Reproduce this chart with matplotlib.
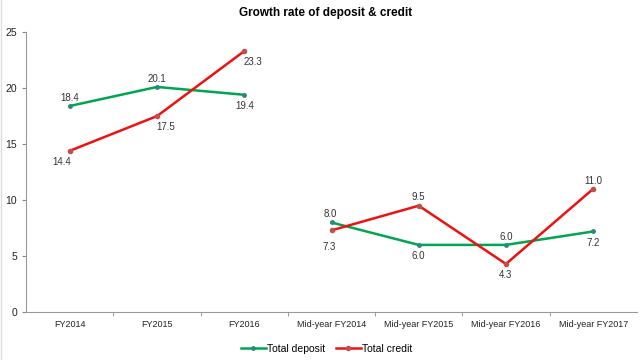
import numpy as np
import matplotlib
matplotlib.use("Agg")
import matplotlib.pyplot as plt
from matplotlib.lines import Line2D

plt.rcParams["font.family"] = ["Liberation Sans", "DejaVu Sans"]

categories = ["FY2014", "FY2015", "FY2016", "Mid-year FY2014",
              "Mid-year FY2015", "Mid-year FY2016", "Mid-year FY2017"]
deposit = [18.4, 20.1, 19.4, 8.0, 6.0, 6.0, 7.2]
credit = [14.4, 17.5, 23.3, 7.3, 9.5, 4.3, 11.0]
# label offsets (points) for the value labels
dep_off = [(0, 6), (0, 6), (0, -8), (-1, 6), (0, -8), (0, 6), (0, -8)]
cred_off = [(-6, -8), (6, -8), (6, -8), (-2, -12), (0, 6), (0, -8), (0, 6)]

GREEN = "#00A54F"
RED = "#EE1111"

fig = plt.figure(figsize=(6.4, 3.6), dpi=100)
ax = fig.add_axes([0.041, 0.133, 0.954, 0.778])

x = np.arange(len(categories))
# the annual and mid-year series are not joined
for seg in (slice(0, 3), slice(3, 7)):
    ax.plot(x[seg], deposit[seg], color=GREEN, lw=1.8, marker="o", ms=2.5,
            mfc="#2a8a7a", mec="#2a8a7a")
    ax.plot(x[seg], credit[seg], color=RED, lw=1.8, marker="o", ms=3,
            mfc="#c0504d", mec="#c0504d")

for i in range(len(x)):
    ax.annotate(f"{deposit[i]:.1f}", (x[i], deposit[i]), xytext=dep_off[i],
                textcoords="offset points", ha="center", va="center",
                fontsize=7, color="#333333")
    ax.annotate(f"{credit[i]:.1f}", (x[i], credit[i]), xytext=cred_off[i],
                textcoords="offset points", ha="center", va="center",
                fontsize=7, color="#333333")

ax.set_xlim(-0.5, len(categories) - 0.5)
ax.set_ylim(0, 25)
ax.set_yticks([0, 5, 10, 15, 20, 25])
ax.set_xticks(x)
ax.set_xticklabels(categories)
ax.set_xticks(np.arange(0.5, len(categories) - 1, 1), minor=True)
ax.tick_params(axis="x", which="major", length=0, labelsize=6.5, pad=6,
               colors="#222222")
ax.tick_params(axis="x", which="minor", length=3, color="#888888")
ax.tick_params(axis="y", length=3, color="#888888", labelsize=7.5,
               labelcolor="#222222")
for s in ("top", "right"):
    ax.spines[s].set_visible(False)
for s in ("left", "bottom"):
    ax.spines[s].set_color("#999999")
    ax.spines[s].set_linewidth(0.8)

fig.text(0.508, 0.963, "Growth rate of deposit & credit", ha="center",
         va="center", fontsize=8.5, fontweight="bold")

# faint border on the left edge, as in the original image
fig.add_artist(Line2D([0.002, 0.002], [0, 1], transform=fig.transFigure,
                      color="#dddddd", lw=1))

h1, = ax.plot([], [], color=GREEN, lw=1.8, marker="o", ms=2.5,
              mfc="#2a8a7a", mec="#2a8a7a")
h2, = ax.plot([], [], color=RED, lw=1.8, marker="o", ms=3,
              mfc="#c0504d", mec="#c0504d")
fig.legend([h1, h2], ["Total deposit", "Total credit"], loc="center",
           bbox_to_anchor=(0.51, 0.031), ncol=2, frameon=False,
           fontsize=7.5, handlelength=2.4, handletextpad=0.1,
           columnspacing=1.0)

fig.savefig("out.png", dpi=100)
